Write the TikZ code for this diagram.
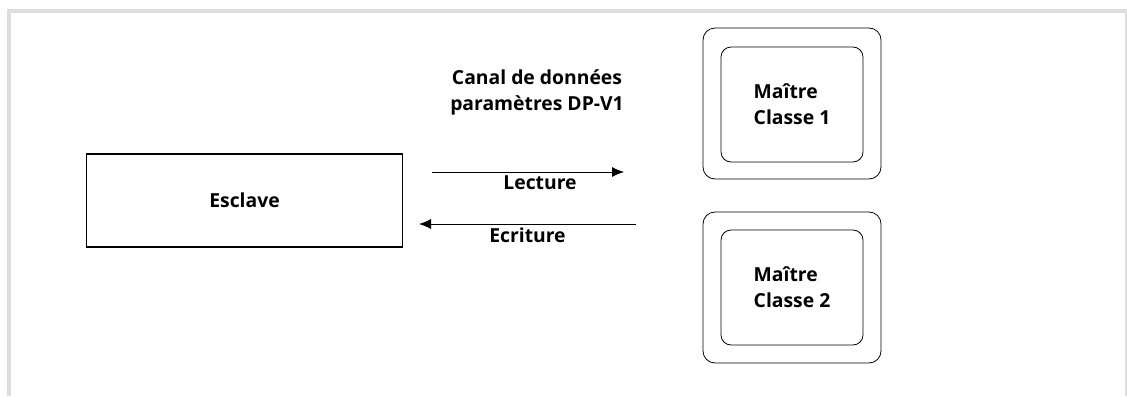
\documentclass[tikz,border=0pt]{standalone}
\usepackage{fontspec}
\setmainfont{Open Sans}
\usetikzlibrary{arrows.meta,positioning}

\begin{document}
\begin{tikzpicture}[
    x=0.75pt, y=-0.75pt,
    font=\fontsize{14.5}{19.5}\selectfont\bfseries,
    slave/.style={draw, line width=1.3pt, minimum width=237pt, minimum height=69.75pt, align=center},
    outerbox/.style={draw, line width=0.6pt, rounded corners=9pt, minimum width=133.5pt, minimum height=113.25pt},
    innerbox/.style={draw, line width=0.6pt, rounded corners=7.5pt, minimum width=106.5pt, minimum height=86.25pt, align=left},
    dataflow/.style={-{Latex[length=9pt,width=7.5pt]}, line width=0.6pt},
    labelnode/.style={align=center}
]
\useasboundingbox (0,0) rectangle (1127,396);

% Frame
\draw[black!13, line width=3pt] (9,396) -- (9,10.5) -- (1127,10.5);
\draw[black!13, line width=0.8pt] (1126,10.5) -- (1126,396);

% Slave
\node[slave] (esclave) at (244.5,200.5) {Esclave};

% Masters
\node[outerbox] (outer1) at (792,103.5) {};
\node[innerbox] (master1) at (792,104.5) {Ma\^itre\\Classe 1};
\node[outerbox] (outer2) at (792,287.5) {};
\node[innerbox] (master2) at (792,287.5) {Ma\^itre\\Classe 2};

% Data channel
\node[labelnode] (canal) at (537,92) {Canal de donn\'ees\\param\`etres DP-V1};
\coordinate (readA) at (432,172);
\coordinate (readB) at (624,172);
\coordinate (writeA) at (636,224);
\coordinate (writeB) at (419,224);
\draw[dataflow] (readA) -- (readB) node[midway, below=-1pt, xshift=9pt] (lecture) {Lecture};
\draw[dataflow] (writeA) -- (writeB) node[midway, below=-1pt, xshift=0pt] (ecriture) {Ecriture};

\end{tikzpicture}
\end{document}
